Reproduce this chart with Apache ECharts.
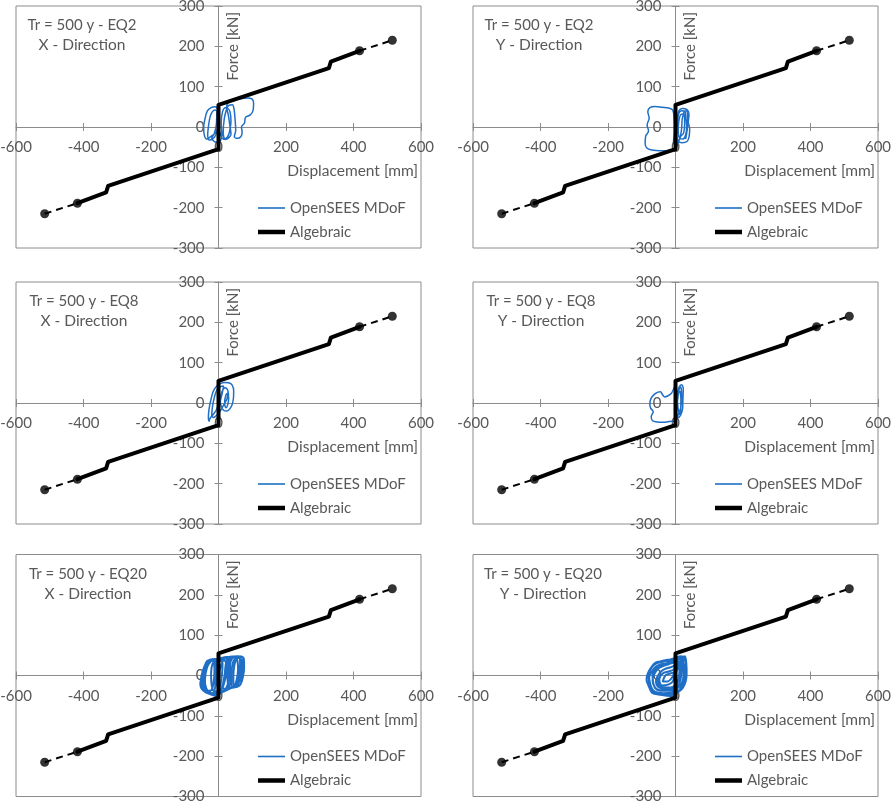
<!DOCTYPE html>
<html><head><meta charset="utf-8">
<script src="https://cdn.jsdelivr.net/npm/echarts@6.0.0/dist/echarts.min.js"></script>
<style>html,body{margin:0;padding:0;background:#fff}#c{width:892px;height:805px}</style>
</head><body><div id="c"></div>
<script>
// ---------- DATA ----------
const panelTitles = ['Tr = 500 y - EQ2', 'Tr = 500 y - EQ2', 'Tr = 500 y - EQ8', 'Tr = 500 y - EQ8', 'Tr = 500 y - EQ20', 'Tr = 500 y - EQ20'];
const panelDirections = ['X - Direction', 'Y - Direction', 'X - Direction', 'Y - Direction', 'X - Direction', 'Y - Direction'];
const xAxisName = 'Displacement [mm]';
const yAxisName = 'Force [kN]';
const seriesNames = ['OpenSEES MDoF', 'Algebraic'];
const xTicks = [-600, 600, 200];   // min, max, interval
const yTicks = [-300, 300, 100];

const algebraicMain = [[-418,-189],[-333,-162],[-327,-146],[0,-55],[0,55],[327,146],[333,162],[418,189]];
const algebraicExtNeg = [[-515,-215],[-418,-189]];
const algebraicExtPos = [[418,189],[515,215]];
const algebraicPoints = [[-515,-215],[-418,-189],[418,189],[515,215]];

const openseesEQ2X = [[0,0],[-10,-15],[-25,-25],[-35,-30],[-42,-20],[-44,0],[-40,20],[-33,40],[-22,48],[-10,50],[-3,45],[0,30],[-2,0],[-8,-20],[-18,-30],[-28,-32],[-32,-20],[-30,0],[-25,25],[-18,38],[-10,42],[-5,38],[-6,10],[-12,-15],[-20,-28],[-12,-36],[-2,-38],[6,-34],[10,-20],[8,10],[12,38],[20,48],[28,46],[34,38],[37,15],[33,-10],[27,-24],[19,-29],[14,-14],[17,20],[24,44],[31,54],[41,55],[46,45],[49,20],[51,-8],[47,-24],[56,-28],[66,-24],[70,-14],[68,0],[77,10],[80,24],[94,30],[102,40],[104,58],[100,69],[85,72],[65,70],[45,67],[30,62],[24,50],[29,30],[34,2],[37,-18],[30,-27],[20,-31],[10,-27],[4,-12]];
const openseesEQ2Y = [[0,0],[5,20],[10,40],[20,46],[34,43],[40,32],[38,12],[42,-5],[40,-25],[34,-36],[20,-39],[8,-35],[3,-20],[5,10],[10,34],[18,40],[28,38],[31,20],[33,0],[30,-20],[22,-30],[12,-28],[8,-10],[10,15],[15,30],[25,33],[27,10],[24,-15],[15,-24],[6,-44],[0,-55],[-20,-58],[-45,-59],[-70,-57],[-85,-52],[-90,-40],[-88,-22],[-80,-10],[-84,5],[-78,22],[-82,38],[-76,48],[-60,51],[-40,49],[-20,47],[-8,42],[-4,20],[-3,-10],[-6,-38],[2,-40],[12,-30],[18,-5],[20,20],[26,38],[32,40],[36,20],[35,-5],[30,-30]];
const openseesEQ8X = [[0,0],[-5,-15],[-15,-28],[-25,-38],[-28,-45],[-30,-35],[-28,-15],[-22,10],[-15,30],[-5,42],[5,48],[18,51],[30,50],[40,45],[45,30],[44,10],[40,-5],[33,-15],[25,-20],[15,-18],[8,-8],[5,10],[10,28],[20,38],[28,30],[30,10],[27,-5],[22,-12],[18,0],[22,20],[28,25],[25,10],[15,-5],[5,-20],[-5,-30],[-15,-36],[-20,-30],[-18,-10],[-12,15],[-5,32],[5,40],[15,42],[10,20],[2,-5],[0,-10]];
const openseesEQ8Y = [[0,0],[5,20],[10,38],[18,45],[23,35],[22,10],[21,-14],[15,-30],[8,-36],[3,-25],[6,5],[10,30],[15,40],[18,20],[16,-10],[10,-25],[4,-38],[0,-45],[-10,-45],[-25,-47],[-40,-48],[-55,-47],[-68,-44],[-72,-34],[-66,-22],[-74,-12],[-76,-2],[-72,12],[-62,22],[-52,27],[-45,28],[-38,20],[-32,15],[-22,18],[-12,24],[-6,34],[-2,40],[2,35],[5,10],[8,-15],[12,-28],[15,-20],[16,10],[13,30]];
const openseesEQ20X = [[0,0],[10,30],[20,42],[30,40],[32,10],[28,-20],[20,-35],[8,-40],[0,-45],[-10,-48],[-25,-45],[-40,-38],[-50,-30],[-52,-10],[-45,15],[-35,32],[-25,38],[-15,36],[-12,10],[-15,-20],[-20,-35],[-30,-40],[-42,-35],[-46,-15],[-40,10],[-30,30],[-20,38],[-5,40],[5,42],[15,45],[25,46],[40,47],[55,48],[68,47],[75,42],[76,20],[72,-5],[65,-22],[55,-28],[45,-30],[35,-32],[25,-35],[15,-38],[5,-40],[0,-42],[10,-30],[18,0],[22,30],[30,44],[45,45],[55,40],[58,15],[54,-10],[48,-25],[40,-28],[38,0],[42,30],[50,42],[62,44],[68,35],[66,5],[60,-18],[50,-26],[35,-30],[28,-10],[30,20],[36,40],[28,45],[12,44],[-5,41],[-20,40],[-32,35],[-40,20],[-48,0],[-54,-20],[-50,-33],[-38,-42],[-22,-47],[-8,-50],[-2,-40],[-5,-10],[-8,20],[-15,35],[-28,38],[-38,30],[-42,5],[-40,-20],[-32,-38],[-18,-44],[-10,-30],[-8,0],[-2,25],[5,38],[12,30],[10,0],[5,-25],[-3,-38],[-12,-40],[-20,-25],[-22,5],[-18,28],[-8,36],[2,30],[3,5],[0,-20],[8,-38],[20,-36],[28,-25],[25,5],[22,32],[12,40],[2,35],[-10,38],[-25,37],[-36,28],[-44,8],[-50,-15],[-46,-32],[-30,-42],[-15,-46],[-5,-44],[0,-30],[-3,0],[-6,28],[-2,38],[10,43],[20,44],[26,35],[24,10],[18,-15],[12,-32],[22,-33],[32,-28],[36,-5],[34,25],[40,42],[52,46],[60,46],[64,30],[62,0],[56,-20],[46,-28],[44,-5],[47,25],[56,44],[70,45],[73,28],[70,0],[62,-15],[54,-22],[30,-34],[15,-40],[0,-46],[-15,-48],[-30,-44],[-44,-36],[-52,-22],[-50,0],[-42,22],[-32,36],[-18,40],[-10,30],[-12,0],[-16,-25],[-25,-38],[-36,-38],[-40,-10],[-34,20],[-24,34],[-12,40]];
const openseesEQ20Y = [[0,0],[10,30],[22,45],[28,48],[32,30],[33,5],[30,-15],[22,-30],[10,-40],[0,-45],[-7,-51],[-25,-50],[-45,-48],[-65,-45],[-72,-40],[-80,-25],[-86,-10],[-82,5],[-72,20],[-61,31],[-45,35],[-30,38],[-15,40],[0,44],[15,48],[25,45],[20,20],[15,-5],[10,-25],[0,-38],[-15,-42],[-35,-44],[-55,-42],[-68,-35],[-75,-20],[-78,-5],[-70,10],[-58,22],[-42,28],[-28,30],[-12,35],[5,40],[18,38],[25,20],[24,0],[18,-20],[5,-32],[-10,-36],[-30,-38],[-50,-36],[-62,-28],[-68,-12],[-62,5],[-50,18],[-35,24],[-20,28],[-5,32],[8,35],[12,15],[8,-10],[0,-25],[-15,-30],[-35,-32],[-52,-28],[-58,-15],[-52,0],[-40,12],[-25,18],[-10,22],[2,28],[-2,5],[-8,-15],[-20,-22],[-40,-25],[-48,-10],[-38,5],[-20,10],[-5,15],[5,25],[15,30],[22,38],[28,42],[30,25],[28,0],[22,-22],[12,-35],[-2,-44],[-20,-46],[-40,-47],[-60,-44],[-70,-38],[-78,-18],[-80,0],[-74,15],[-64,26],[-50,32],[-32,35],[-15,38],[2,42],[18,45],[22,30],[18,5],[12,-18],[2,-30],[-12,-34],[-28,-36],[-45,-38],[-60,-32],[-66,-18],[-68,0],[-60,14],[-46,22],[-30,26],[-14,30],[0,36],[12,40],[16,22],[12,-2],[4,-20],[-8,-28],[-22,-30],[-40,-30],[-50,-22],[-54,-8],[-46,8],[-32,16],[-16,20],[-4,24],[6,32],[-2,12],[-10,-5],[-25,-15],[-38,-15],[-30,0],[-15,5],[0,10],[10,20],[20,32],[26,44]];
const openseesByPanel = [openseesEQ2X, openseesEQ2Y, openseesEQ8X, openseesEQ8Y, openseesEQ20X, openseesEQ20Y];

// ---------- LAYOUT & STYLE ----------
const FONT = 'Lato';
const textColor = '#595959';
const axisColor = '#8c8c8c';
const blue = '#1f6fc6';
const colLeft = [16, 473];
const rowTop = [6, 282, 554.5];
const gridW = 405, gridH = 242;
const titleCenter = [66, 66, 68, 68, 72, 70];
const blueWidth = [1.5, 1.5, 1.5, 1.5, 2, 2];

const grids = [], xAxes = [], yAxes = [], series = [], legends = [], graphics = [];
for (let i = 0; i < 6; i++) {
  const L = colLeft[i % 2], T = rowTop[Math.floor(i / 2)];
  grids.push({ left: L, top: T, width: gridW, height: gridH, show: true, borderColor: axisColor, borderWidth: 1, backgroundColor: 'transparent', outerBoundsMode: 'none', containLabel: false });
  const lbl = { color: textColor, fontSize: 15, fontFamily: FONT };
  for (let k = 0; k < 2; k++) {
    // axes sit at the value 0, which is the middle of the symmetric ranges
    xAxes.push({ type: 'value', gridIndex: i, min: xTicks[0], max: xTicks[1], interval: xTicks[2], position: 'bottom', offset: -gridH / 2,
      axisLine: { show: k === 0, onZero: false, lineStyle: { color: axisColor, width: 1 } },
      axisTick: { show: true, inside: k === 1, length: 4, lineStyle: { color: axisColor, width: 1 } },
      axisLabel: Object.assign({ show: k === 0, margin: 13 }, lbl),
      splitLine: { show: false } });
    yAxes.push({ type: 'value', gridIndex: i, min: yTicks[0], max: yTicks[1], interval: yTicks[2], position: 'left', offset: -gridW / 2,
      axisLine: { show: k === 0, onZero: false, lineStyle: { color: axisColor, width: 1 } },
      axisTick: { show: true, inside: k === 1, length: 4, lineStyle: { color: axisColor, width: 1 } },
      axisLabel: Object.assign({ show: k === 0, margin: 14 }, lbl),
      splitLine: { show: false } });
  }
  const xi = 2 * i, yi = 2 * i;
  series.push({ type: 'line', name: seriesNames[0], xAxisIndex: xi, yAxisIndex: yi, data: openseesByPanel[i], symbol: 'none', smooth: 0.35,
    lineStyle: { color: blue, width: blueWidth[i] }, itemStyle: { color: blue }, z: 2, silent: true });
  series.push({ type: 'line', name: seriesNames[1], xAxisIndex: xi, yAxisIndex: yi, data: algebraicMain, symbol: 'none',
    lineStyle: { color: '#000', width: 4, join: 'round', cap: 'round' }, itemStyle: { color: '#000' }, z: 3, silent: true });
  [algebraicExtNeg, algebraicExtPos].forEach(d => series.push({ type: 'line', name: 'ext', xAxisIndex: xi, yAxisIndex: yi, data: d, symbol: 'none',
    lineStyle: { color: '#000', width: 2, type: [7, 5] }, itemStyle: { color: '#000' }, z: 3, silent: true }));
  series.push({ type: 'scatter', name: 'pts', xAxisIndex: xi, yAxisIndex: yi, data: algebraicPoints, symbol: 'circle', symbolSize: 9,
    itemStyle: { color: '#000' }, z: 4, silent: true });

  legends.push({ left: L + 242, top: T + 194.5, orient: 'vertical', itemWidth: 27, itemHeight: 14, itemGap: 9, padding: 0,
    selectedMode: false, textStyle: { color: textColor, fontSize: 15, fontFamily: FONT },
    itemStyle: { borderWidth: 0 },
    data: [{ name: seriesNames[0], icon: 'path://M0 0H27V1.6H0Z' }, { name: seriesNames[1], icon: 'path://M0 0H27V4.5H0Z' }] });

  const tc = L + titleCenter[i];
  graphics.push({ type: 'text', x: tc, y: T + 19.5, style: { text: panelTitles[i], fill: textColor, fontSize: 15, fontFamily: FONT, align: 'center', verticalAlign: 'middle' } });
  graphics.push({ type: 'text', x: tc, y: T + 39, style: { text: panelDirections[i], fill: textColor, fontSize: 15.5, fontFamily: FONT, align: 'center', verticalAlign: 'middle' } });
  graphics.push({ type: 'text', x: L + gridW / 2 + 15, y: T + 6, rotation: Math.PI / 2, style: { text: yAxisName, fill: textColor, fontSize: 15, fontFamily: FONT, align: 'right', verticalAlign: 'middle' } });
  graphics.push({ type: 'text', x: L + gridW - 3, y: T + gridH / 2 + 44, style: { text: xAxisName, fill: textColor, fontSize: 15.5, fontFamily: FONT, align: 'right', verticalAlign: 'middle' } });
}

const chart = echarts.init(document.getElementById('c'), null, { renderer: 'canvas' });
chart.setOption({ animation: false, backgroundColor: '#fff', grid: grids, xAxis: xAxes, yAxis: yAxes, series, legend: legends, graphic: { elements: graphics } });
</script></body></html>
